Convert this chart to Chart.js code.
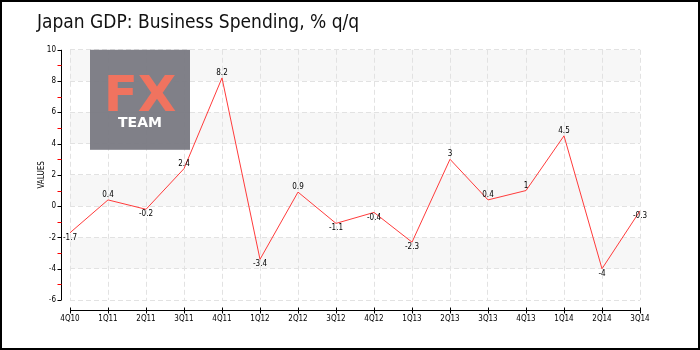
<!DOCTYPE html>
<html lang="en">
<head>
<meta charset="UTF-8">
<title>Japan GDP: Business Spending</title>
<script src="https://cdn.jsdelivr.net/npm/chart.js"></script>
<style>
  body { margin: 0; background: #fff; }
  .quadro { position: relative; width: 700px; height: 350px; }
  .quadro canvas { position: absolute; left: 0; top: 0; }
  .moldura { position: absolute; left: 0; top: 0; width: 700px; height: 350px;
             border: 2px solid #000; box-sizing: border-box; pointer-events: none; }
</style>
</head>
<body>
<div class="quadro">
  <canvas id="grafico" width="700" height="350"></canvas>
  <div class="moldura"></div>
</div>

<script>
// dados
const trimestres = ['4Q10', '1Q11', '2Q11', '3Q11', '4Q11', '1Q12', '2Q12', '3Q12',
                    '4Q12', '1Q13', '2Q13', '3Q13', '4Q13', '1Q14', '2Q14', '3Q14'];
const gastos = [-1.7, 0.4, -0.2, 2.4, 8.2, -3.4, 0.9, -1.1, -0.4, -2.3, 3, 0.4, 1, 4.5, -4, -0.3];
const limitesY = [-6, 10];
const passoY = 2;

const fonteEixo = '"DejaVu Sans Condensed", "DejaVu Sans", sans-serif';

// faixas cinza alternadas no fundo
const faixas = {
    id: 'faixas',
    beforeDraw(chart) {
        const { ctx, chartArea, scales } = chart;
        const y = scales.y;
        ctx.save();
        ctx.fillStyle = '#f7f7f7';
        for (let v = limitesY[1]; v > limitesY[0]; v -= passoY * 2) {
            const topo = y.getPixelForValue(v);
            const base = y.getPixelForValue(v - passoY);
            ctx.fillRect(chartArea.left, topo, chartArea.right - chartArea.left, base - topo);
        }
        ctx.restore();
    }
};

// logo FX TEAM
const logo = {
    id: 'logo',
    beforeDatasetsDraw(chart) {
        const { ctx, chartArea } = chart;
        const x = chartArea.left + 20;
        const y = chartArea.top;
        ctx.save();
        ctx.globalAlpha = 0.96;
        ctx.fillStyle = '#7b7b83';
        ctx.fillRect(x, y, 100, 100);
        ctx.globalAlpha = 1;
        ctx.textAlign = 'center';
        ctx.textBaseline = 'alphabetic';
        ctx.fillStyle = '#f0735f';
        ctx.font = 'bold 50px "DejaVu Sans", sans-serif';
        ctx.fillText('FX', x + 50, y + 61);
        ctx.fillStyle = '#ffffff';
        ctx.font = 'bold 14px "DejaVu Sans", sans-serif';
        ctx.fillText('TEAM', x + 50, y + 77);
        ctx.restore();
    }
};

// eixos desenhados a parte (com espaco entre eles)
const eixos = {
    id: 'eixos',
    afterDraw(chart) {
        const { ctx, chartArea, scales } = chart;
        const y = scales.y;
        const x = scales.x;
        const xEixoY = chartArea.left - 8.5;
        const yEixoX = chartArea.bottom + 10.5;
        ctx.save();
        ctx.lineWidth = 1;

        ctx.strokeStyle = '#000';
        ctx.beginPath();
        ctx.moveTo(xEixoY, y.getPixelForValue(limitesY[1]));
        ctx.lineTo(xEixoY, y.getPixelForValue(limitesY[0]));
        ctx.stroke();

        for (let v = limitesY[0]; v <= limitesY[1]; v++) {
            const py = Math.round(y.getPixelForValue(v)) + 0.5;
            ctx.strokeStyle = v % 2 === 0 ? '#000' : '#ff0000';
            ctx.beginPath();
            ctx.moveTo(xEixoY - 4, py);
            ctx.lineTo(xEixoY, py);
            ctx.stroke();
        }

        ctx.strokeStyle = '#000';
        ctx.beginPath();
        ctx.moveTo(x.getPixelForValue(0), yEixoX);
        ctx.lineTo(x.getPixelForValue(trimestres.length - 1), yEixoX);
        ctx.stroke();
        trimestres.forEach((t, i) => {
            const px = Math.round(x.getPixelForValue(i)) + 0.5;
            ctx.beginPath();
            ctx.moveTo(px, yEixoX - 3);
            ctx.lineTo(px, yEixoX + 3);
            ctx.stroke();
        });
        ctx.restore();
    }
};

// rotulos dos valores
const rotulos = {
    id: 'rotulos',
    afterDatasetsDraw(chart) {
        const { ctx } = chart;
        const meta = chart.getDatasetMeta(0);
        ctx.save();
        ctx.font = '8px ' + fonteEixo;
        ctx.fillStyle = '#000';
        ctx.textAlign = 'center';
        meta.data.forEach((p, i) => {
            const v = gastos[i];
            if (v >= 0) {
                ctx.textBaseline = 'bottom';
                ctx.fillText(String(v), p.x, p.y - 1);
            } else {
                ctx.textBaseline = 'top';
                ctx.fillText(String(v), p.x, p.y + 1);
            }
        });
        ctx.restore();
    }
};

new Chart(document.getElementById('grafico'), {
    type: 'line',
    data: {
        labels: trimestres,
        datasets: [{
            label: 'Business Spending',
            data: gastos,
            borderColor: '#ff3b3b',
            borderWidth: 1,
            pointRadius: 0,
            tension: 0,
            fill: false
        }]
    },
    options: {
        responsive: false,
        animation: false,
        layout: { padding: { left: 37, right: 60, top: 0, bottom: 0 } },
        plugins: {
            legend: { display: false },
            tooltip: { enabled: false },
            title: {
                display: true,
                text: 'Japan GDP: Business Spending, % q/q',
                align: 'start',
                color: '#111',
                font: { family: '"DejaVu Sans Condensed", sans-serif', size: 19, weight: 'normal' },
                padding: { top: 12, bottom: 15 }
            }
        },
        scales: {
            x: {
                offset: false,
                grid: { color: '#e2e2e2', drawTicks: false },
                border: { display: false, dash: [5, 3] },
                ticks: {
                    color: '#000',
                    font: { family: fonteEixo, size: 8 },
                    padding: 14,
                    maxRotation: 0,
                    autoSkip: false
                },
                afterFit(scale) { scale.height = 50; }
            },
            y: {
                min: limitesY[0],
                max: limitesY[1],
                grid: { color: '#e2e2e2', drawTicks: false },
                border: { display: false, dash: [5, 3] },
                ticks: {
                    stepSize: passoY,
                    color: '#000',
                    font: { family: fonteEixo, size: 8 },
                    padding: 14
                },
                title: {
                    display: true,
                    text: 'VALUES',
                    color: '#000',
                    font: { family: fonteEixo, size: 8 },
                    padding: { top: 0, bottom: 0 }
                },
                afterFit(scale) { scale.width = 33; }
            }
        }
    },
    plugins: [faixas, logo, rotulos, eixos]
});
</script>
</body>
</html>
